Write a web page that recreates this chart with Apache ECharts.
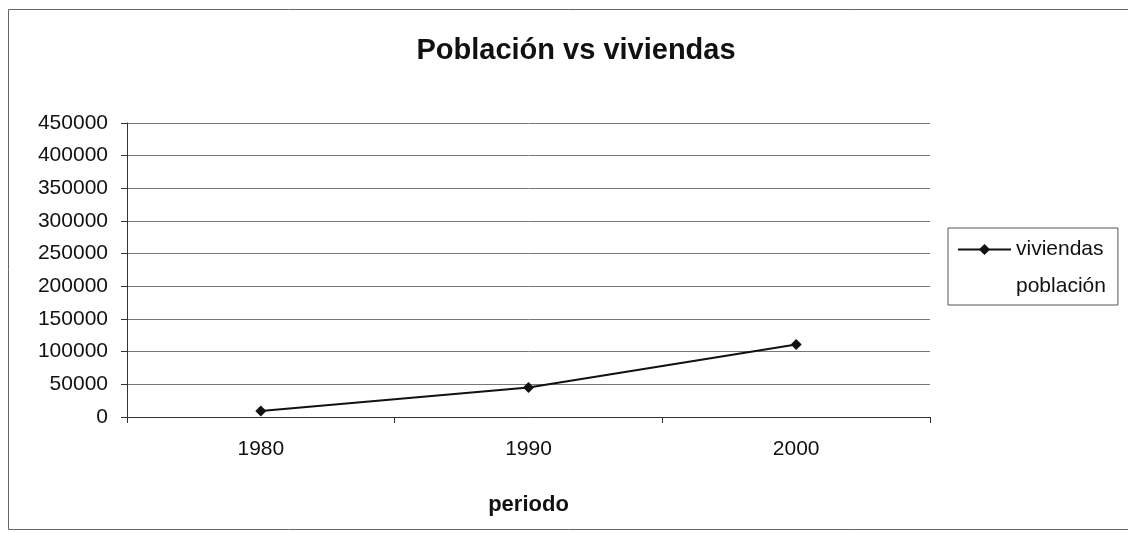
<!DOCTYPE html>
<html>
<head>
<meta charset="utf-8">
<script src="https://cdn.jsdelivr.net/npm/echarts@6/dist/echarts.min.js"></script>
<style>
	html, body { margin: 0; padding: 0; background: #fff; }
	#chart { width: 1128px; height: 533px; }
</style>
</head>
<body>
<div id="chart"></div>
<script>
var periodos = ["1980", "1990", "2000"];
var viviendas = [9000, 45000, 111000];
// la serie de población no se ve en el gráfico
var poblacion = [null, null, null];

var chart = echarts.init(document.getElementById("chart"));
var font = "Liberation Sans, Arial, sans-serif";

var option = {
	backgroundColor: "#fff",
	animation: false,
	title: {
		text: "Población vs viviendas",
		left: 571,
		textAlign: "center",
		top: 31,
		textStyle: { fontFamily: font, fontSize: 29, fontWeight: "bold", color: "#111" }
	},
	graphic: [{
		type: "rect",
		shape: { x: 8.5, y: 9.5, width: 1140, height: 520 },
		style: { fill: "none", stroke: "#666", lineWidth: 1 },
		silent: true
	}],
	legend: {
		orient: "vertical",
		left: 948,
		top: 228,
		padding: [11, 12, 8, 9],
		itemGap: 16,
		itemWidth: 53,
		itemHeight: 14,
		borderColor: "#555",
		borderWidth: 1,
		textStyle: { fontFamily: font, fontSize: 21, color: "#111" },
		data: [
			{ name: "viviendas" },
			{ name: "población", itemStyle: { opacity: 0 }, lineStyle: { opacity: 0 } }
		]
	},
	grid: {
		left: 127,
		right: 198,
		top: 123,
		bottom: 116,
		containLabel: false
	},
	xAxis: {
		type: "category",
		data: periodos,
		boundaryGap: true,
		name: "periodo",
		nameLocation: "middle",
		nameGap: 77,
		nameTextStyle: { fontFamily: font, fontSize: 22, fontWeight: "bold", color: "#111" },
		axisLine: { lineStyle: { color: "#333", width: 1 } },
		axisTick: { show: true, length: 6, lineStyle: { color: "#333" } },
		axisLabel: { fontFamily: font, fontSize: 21, color: "#111", margin: 22 }
	},
	yAxis: {
		type: "value",
		min: 0,
		max: 450000,
		interval: 50000,
		axisLine: { show: true, lineStyle: { color: "#333", width: 1 } },
		axisTick: { show: true, length: 6, lineStyle: { color: "#333" } },
		axisLabel: {
			fontFamily: font, fontSize: 21, color: "#111", margin: 19,
			formatter: function(v) { return String(v); }
		},
		splitLine: { lineStyle: { color: "#777", width: 1 } }
	},
	series: [{
		name: "viviendas",
		type: "line",
		data: viviendas,
		symbol: "diamond",
		symbolSize: 11,
		itemStyle: { color: "#111" },
		lineStyle: { color: "#111", width: 2 }
	}, {
		name: "población",
		type: "line",
		data: poblacion,
		symbol: "none",
		itemStyle: { color: "#fff" },
		lineStyle: { color: "#fff", width: 0 }
	}]
};
chart.setOption(option);
</script>
</body>
</html>
